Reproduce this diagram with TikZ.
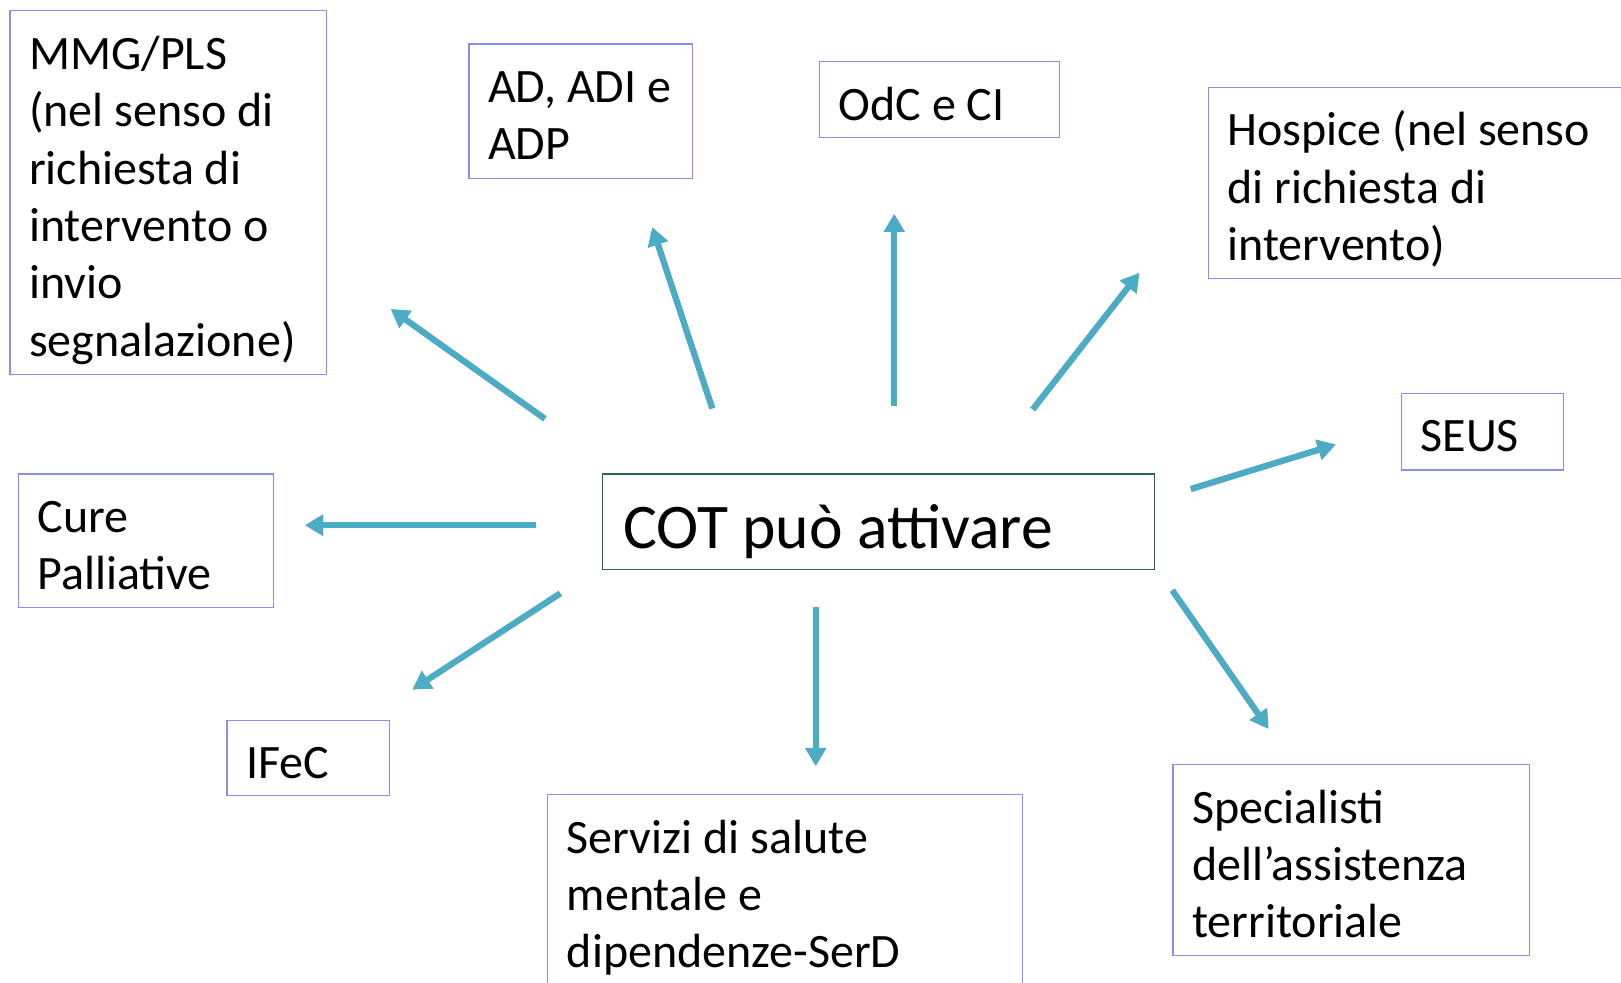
\documentclass[tikz,border=0pt]{standalone}
\usepackage{fontspec}
\setmainfont{Carlito}
\usetikzlibrary{arrows.meta}
\definecolor{arrblue}{HTML}{4BACC6}
\definecolor{shadowgrey}{HTML}{9A9A9A}
\definecolor{boxline}{HTML}{8C8CF0}
\definecolor{cotline}{HTML}{2F5D68}
\begin{document}
\begin{tikzpicture}[x=0.5pt,y=-0.5pt,
  box/.style={draw=boxline,line width=0.6pt,inner sep=0pt,anchor=north west},
  cotbox/.style={draw=cotline,line width=0.8pt,inner sep=0pt,anchor=north west},
  txt/.style={inner sep=0pt,anchor=north west,align=left,font=\fontsize{24}{28.7}\selectfont},
  cottxt/.style={inner sep=0pt,anchor=north west,align=left,font=\fontsize{31.8}{40}\selectfont},
  arr/.style={line width=3pt,arrblue,-{Triangle[width=10pt,length=9pt]}},
  arrsh/.style={line width=3pt,shadowgrey,-{Triangle[width=10pt,length=9pt]},shift={(2,2.5)}}
]
\useasboundingbox (0,0) rectangle (1621,983);
\fill[white] (0,0) rectangle (1621,983);

% boxes
\node[box,minimum width=158.2pt,minimum height=182pt] (mmg) at (9.3,10.3) {};
\node[box,minimum width=111.7pt,minimum height=67.2pt] (ad) at (468.3,43.4) {};
\node[box,minimum width=119.9pt,minimum height=37.8pt] (odc) at (818.8,61) {};
\node[box,minimum width=216.3pt,minimum height=95.6pt] (hosp) at (1207.5,86.8) {};
\node[box,minimum width=81.2pt,minimum height=38.3pt] (seus) at (1400.8,392.8) {};
\node[cotbox,minimum width=276pt,minimum height=47.6pt] (cot) at (601.7,473.5) {};
\node[box,minimum width=127.7pt,minimum height=66.7pt] (cure) at (17.6,473.5) {};
\node[box,minimum width=81.2pt,minimum height=37.8pt] (ifec) at (226.4,719.5) {};
\node[box,minimum width=237.3pt,minimum height=103pt] (serv) at (546.9,794) {};
\node[box,minimum width=178.4pt,minimum height=95.6pt] (spec) at (1172.3,764) {};

% texts
\node[txt] (mmgtext) at (28.8,28.8) {\strut MMG/PLS\\(nel senso di\\richiesta di\\intervento o\\invio\\segnalazione)};
\node[txt] (adtext) at (487.8,61.9) {\strut AD, ADI e\\ADP};
\node[txt] (odctext) at (838.3,79.5) {\strut OdC e CI};
\node[txt] (hosptext) at (1227,105.3) {\strut Hospice (nel senso\\di richiesta di\\intervento)};
\node[txt] (seustext) at (1420.3,411.3) {\strut SEUS};
\node[txt] (curetext) at (37.1,492) {\strut Cure\\Palliative};
\node[txt] (ifectext) at (245.9,738) {\strut IFeC};
\node[txt] (servtext) at (566.4,812.5) {\strut Servizi di salute\\mentale e\\dipendenze-SerD};
\node[txt] (spectext) at (1191.8,782.5) {\strut Specialisti\\dell’assistenza\\territoriale};
\node[cottxt] (cottext) at (623,492) {\strut COT può attivare};

% arrow end points
\coordinate (a1s) at (544.8,418.7); \coordinate (a1e) at (390.8,309.1);
\coordinate (a2s) at (712.3,408.4); \coordinate (a2e) at (652.3,227.4);
\coordinate (a3s) at (894.2,406.3); \coordinate (a3e) at (894.2,214);
\coordinate (a4s) at (1032.8,409.4); \coordinate (a4e) at (1139.3,272.9);
\coordinate (a5s) at (1190.9,489); \coordinate (a5e) at (1335.7,444.5);
\coordinate (a6s) at (1172.3,590.3); \coordinate (a6e) at (1268.5,728.8);
\coordinate (a7s) at (815.7,606.8); \coordinate (a7e) at (815.7,766);
\coordinate (a8s) at (560.3,593.4); \coordinate (a8e) at (412.5,689.5);
\coordinate (a9s) at (535.5,525.2); \coordinate (a9e) at (305,525.2);

\foreach \i in {1,...,9}{
  \draw[arrsh] (a\i s) -- (a\i e);
  \draw[arr] (a\i s) -- (a\i e);
}
\end{tikzpicture}
\end{document}
